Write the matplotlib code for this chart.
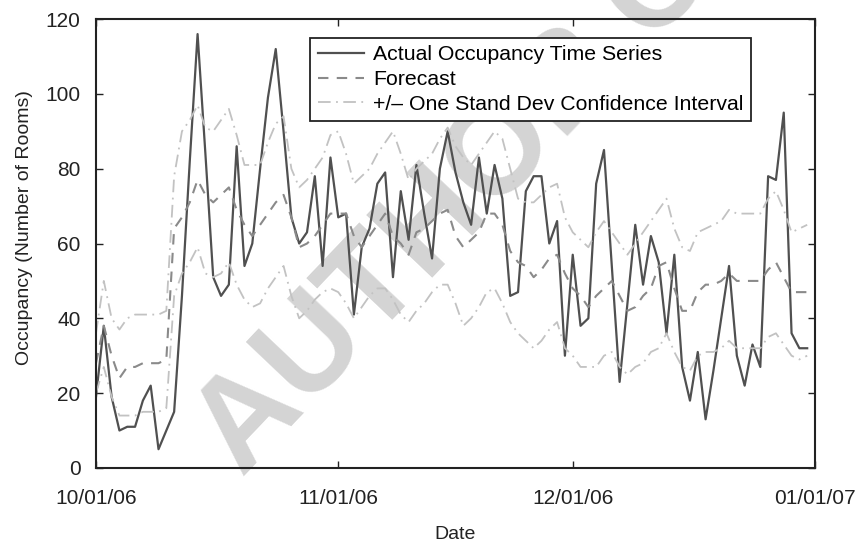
import numpy as np
import matplotlib
matplotlib.use('Agg')
import matplotlib.pyplot as plt
import matplotlib.dates as mdates
import pandas as pd

plt.rcParams['font.family'] = ['Liberation Sans', 'DejaVu Sans']

# daily occupancy, 10/01/06 onwards
dates = pd.date_range('2006-10-01', periods=92, freq='D')

actual = [19, 38, 19, 10, 11, 11, 18, 22, 5, 10,
          15, 46, 82, 116, 84, 51, 46, 49, 86, 54,
          60, 80, 99, 112, 90, 67, 60, 63, 78, 54,
          83, 67, 68, 41, 59, 64, 76, 79, 51, 74,
          61, 81, 68, 56, 80, 90, 79, 71, 65, 83,
          68, 81, 72, 46, 47, 74, 78, 78, 60, 66,
          30, 57, 38, 40, 76, 85, 54, 23, 44, 65,
          49, 62, 55, 36, 57, 27, 18, 31, 13, 26,
          40, 54, 30, 22, 33, 27, 78, 77, 95, 36,
          32, 32]

forecast = [28, 38, 30, 24, 27, 27, 28, 28, 28, 29,
            64, 67, 71, 77, 73, 71, 73, 75, 69, 65,
            62, 65, 68, 71, 73, 67, 59, 60, 62, 65,
            68, 68, 68, 62, 59, 62, 65, 68, 62, 60,
            57, 63, 64, 66, 68, 69, 62, 59, 61, 63,
            68, 68, 65, 58, 55, 54, 51, 53, 56, 57,
            52, 48, 46, 43, 46, 48, 50, 46, 42, 43,
            46, 48, 54, 55, 48, 42, 42, 47, 49, 49,
            50, 52, 50, 50, 50, 50, 53, 55, 51, 47,
            47, 47]

upper = [36, 50, 40, 37, 40, 41, 41, 41, 41, 42,
         78, 90, 93, 97, 91, 90, 93, 96, 89, 81,
         81, 81, 87, 92, 94, 80, 75, 77, 80, 83,
         89, 90, 84, 76, 78, 80, 84, 87, 90, 84,
         77, 80, 82, 84, 88, 91, 86, 83, 81, 84,
         87, 90, 88, 80, 72, 71, 71, 73, 75, 76,
         67, 63, 61, 59, 63, 66, 63, 60, 57, 60,
         63, 66, 69, 72, 64, 59, 58, 63, 64, 65,
         66, 69, 68, 68, 68, 68, 72, 74, 69, 63,
         64, 65]

lower = [20, 27, 19, 14, 14, 14, 15, 15, 15, 16,
         46, 52, 55, 59, 52, 51, 52, 55, 49, 45,
         43, 44, 48, 51, 54, 46, 40, 42, 45, 47,
         48, 47, 44, 40, 43, 46, 48, 48, 45, 41,
         39, 42, 44, 47, 49, 49, 44, 38, 40, 43,
         47, 48, 44, 39, 36, 34, 32, 34, 37, 39,
         32, 30, 27, 27, 27, 30, 31, 27, 25, 27,
         28, 31, 32, 36, 31, 27, 26, 30, 31, 31,
         32, 34, 32, 32, 32, 32, 35, 36, 33, 30,
         29, 30]

fig = plt.figure(figsize=(8.57, 5.46), dpi=100)
ax = fig.add_axes([0.112, 0.143, 0.839, 0.822])
ax.set_facecolor('none')

# watermark, behind everything
wm = fig.text(0.641, 0.808, 'AUTHOR COPY', fontsize=94, fontweight='bold', color='#d4d4d4',
              rotation=46.5, rotation_mode='anchor', ha='center', va='center')
wm.set_zorder(-1)

ax.plot(dates, actual, color='#505050', lw=1.6, label='Actual Occupancy Time Series')
ax.plot(dates, forecast, color='#8a8a8a', lw=1.5, ls=(0, (5, 4)), label='Forecast')
ax.plot(dates, upper, color='#c2c2c2', lw=1.3, ls=(0, (7, 3, 1, 3)),
        label='+/\u2013 One Stand Dev Confidence Interval')
ax.plot(dates, lower, color='#c2c2c2', lw=1.3, ls=(0, (7, 3, 1, 3)))

ax.set_xlim(pd.Timestamp('2006-10-01'), pd.Timestamp('2007-01-01'))
ax.set_ylim(0, 120)
ax.set_yticks(range(0, 121, 20))
ax.set_xticks(pd.to_datetime(['2006-10-01', '2006-11-01', '2006-12-01', '2007-01-01']))
ax.xaxis.set_major_formatter(mdates.DateFormatter('%m/%d/%y'))
ax.tick_params(direction='in', top=True, right=True, length=5, width=1,
               labelsize=15, colors='#222222')
ax.tick_params(axis='x', pad=15)
ax.tick_params(axis='y', pad=11)
for s in ax.spines.values():
    s.set_linewidth(1.5)
    s.set_color('#222222')

ax.set_xlabel('Date', fontsize=14, labelpad=13, color='#222222')
ax.set_ylabel('Occupancy (Number of Rooms)', fontsize=14, color='#222222')
ax.yaxis.set_label_coords(-0.0876, 0.535)

leg = ax.legend(loc='upper left', bbox_to_anchor=(0.298, 0.958), borderaxespad=0,
                fontsize=15.3, handlelength=2.2, handletextpad=0.4, labelspacing=0.27,
                borderpad=0.35, fancybox=False, framealpha=1)
leg.get_frame().set_edgecolor('#222222')
leg.get_frame().set_linewidth(1.3)

plt.savefig('out.png', dpi=100)
